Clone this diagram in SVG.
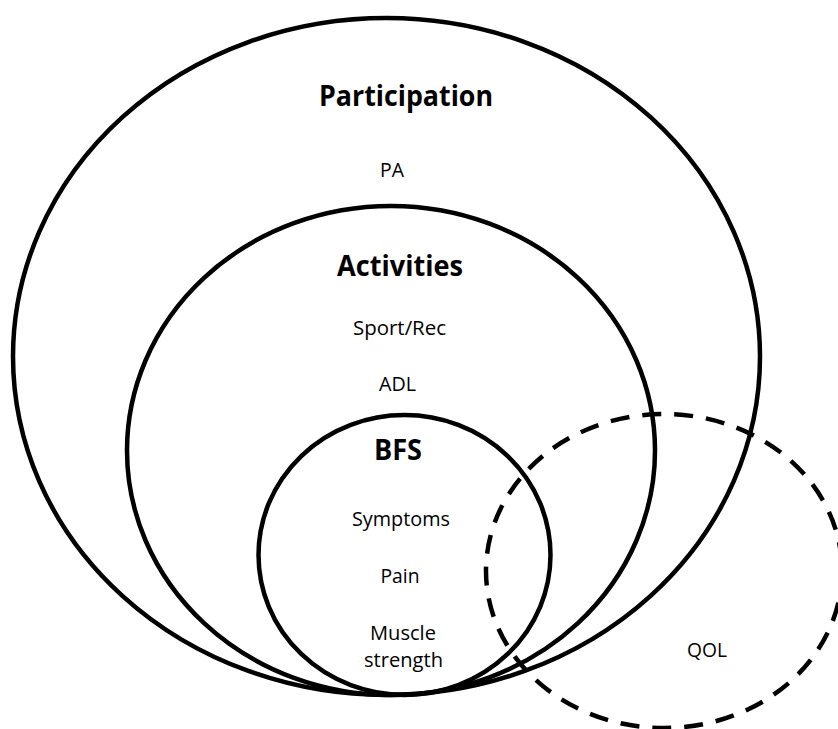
<svg xmlns="http://www.w3.org/2000/svg" width="838" height="729" viewBox="0 0 838 729">
<style>
.c{fill:none;stroke:#000;stroke-width:4.5}
.d{fill:none;stroke:#000;stroke-width:4.5;stroke-dasharray:19 13}
.h{font-family:"Open Sans","Liberation Sans",sans-serif;font-weight:bold;font-size:29px;text-anchor:middle;fill:#000}
.t{font-family:"Open Sans","Liberation Sans",sans-serif;font-size:20px;text-anchor:middle;fill:#000}
</style>
<rect width="838" height="729" fill="#fff"/>
<g id="participation">
<ellipse class="c" cx="386.5" cy="356.5" rx="373.5" ry="338.5"/>
<text class="h" x="406" y="106" textLength="174" lengthAdjust="spacingAndGlyphs">Participation</text>
<text class="t" x="392" y="177" textLength="24" lengthAdjust="spacingAndGlyphs">PA</text>
</g>
<g id="activities">
<ellipse class="c" cx="391" cy="450.5" rx="264" ry="244.5"/>
<text class="h" x="400" y="276" textLength="126" lengthAdjust="spacingAndGlyphs">Activities</text>
<text class="t" x="399.5" y="335" textLength="93" lengthAdjust="spacingAndGlyphs">Sport/Rec</text>
<text class="t" x="397.5" y="391" textLength="37" lengthAdjust="spacingAndGlyphs">ADL</text>
</g>
<g id="bfs">
<ellipse class="c" cx="404.5" cy="555" rx="146" ry="140"/>
<text class="h" x="398" y="460" textLength="48" lengthAdjust="spacingAndGlyphs">BFS</text>
<text class="t" x="401" y="526" textLength="98" lengthAdjust="spacingAndGlyphs">Symptoms</text>
<text class="t" x="400" y="583" textLength="39" lengthAdjust="spacingAndGlyphs">Pain</text>
<text class="t" x="403" y="640" textLength="66" lengthAdjust="spacingAndGlyphs">Muscle</text>
<text class="t" x="403.5" y="667" textLength="79" lengthAdjust="spacingAndGlyphs">strength</text>
</g>
<g id="qol">
<ellipse class="d" cx="664" cy="571" rx="178" ry="157"/>
<text class="t" x="707" y="657" textLength="40" lengthAdjust="spacingAndGlyphs">QOL</text>
</g>
<g id="connectors"/>
</svg>
